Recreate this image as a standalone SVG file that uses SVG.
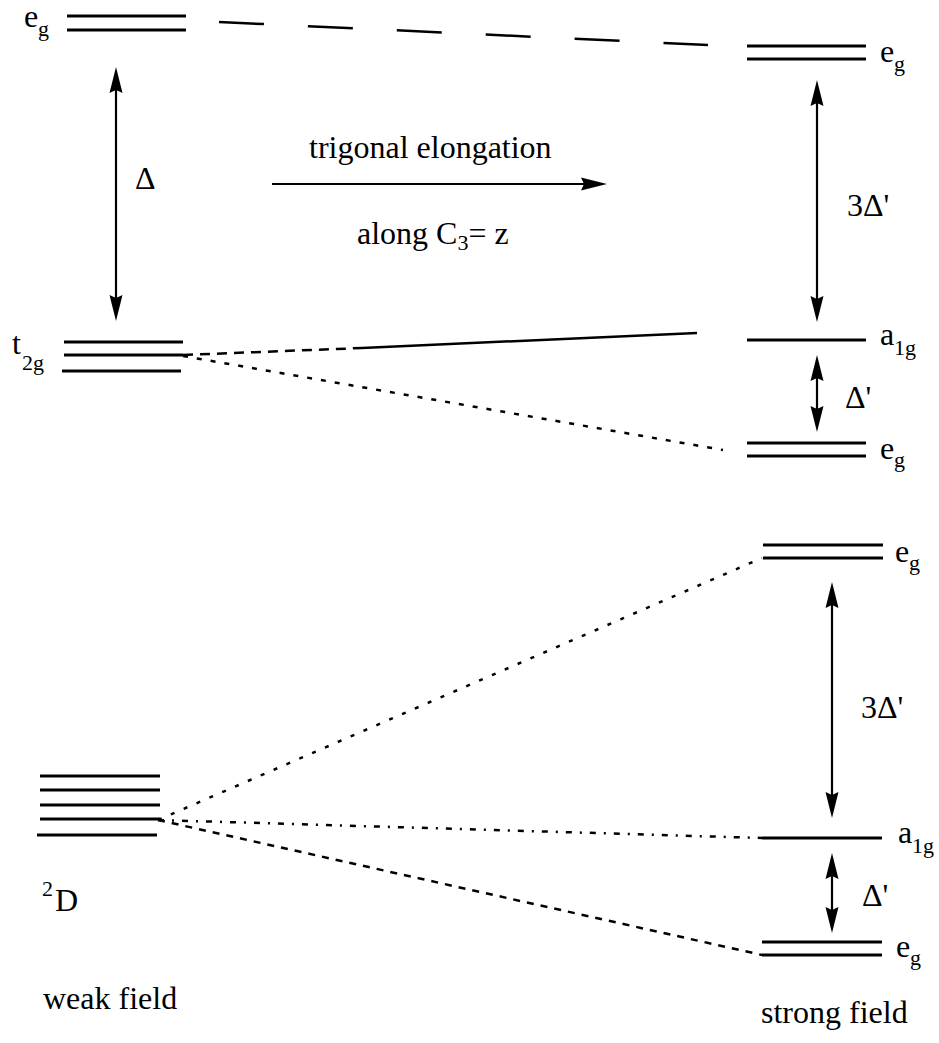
<svg xmlns="http://www.w3.org/2000/svg" width="939" height="1043" viewBox="0 0 939 1043">
<defs>
<style>
.lv{stroke:#000;stroke-width:3;fill:none}
.ar{stroke:#000;stroke-width:2.2;fill:none;marker-start:url(#ah);marker-end:url(#ah)}
.ar1{stroke:#000;stroke-width:2.2;fill:none;marker-end:url(#ah)}
.cn{stroke:#000;fill:none;stroke-width:2.5}
text{font-family:"Liberation Serif","Times New Roman",serif;font-size:32px;fill:#000}
.sub{font-size:22px}
</style>
<marker id="ah" markerUnits="userSpaceOnUse" viewBox="0 0 26 14" markerWidth="26" markerHeight="14" refX="16" refY="7" orient="auto-start-reverse">
<path d="M0,0.5 L26,7 L0,13.5 L3,7 Z" fill="#000"/>
</marker>
</defs>
<rect width="939" height="1043" fill="#fff"/>

<g id="connectors">
<line class="cn" x1="219" y1="22" x2="708" y2="45" stroke-dasharray="45 44"/>
<line class="cn" x1="183" y1="355" x2="362" y2="348" stroke-dasharray="10 7"/>
<line class="cn" x1="362" y1="348" x2="697" y2="333"/>
<line class="cn" x1="183" y1="356" x2="723" y2="450" stroke-dasharray="5 9" stroke-width="3"/>
<line class="cn" x1="158" y1="820" x2="762" y2="558" stroke-dasharray="4 10" stroke-width="3"/>
<line class="cn" x1="158" y1="820" x2="762" y2="838" stroke-dasharray="6 8 2 8"/>
<line class="cn" x1="158" y1="820" x2="762" y2="955" stroke-dasharray="7 7" stroke-width="3"/>
</g>

<g id="arrows">
<line class="ar" x1="116" y1="77" x2="116" y2="311"/>
<line class="ar1" x1="272" y1="184" x2="597" y2="184"/>
<line class="ar" x1="817" y1="90" x2="817" y2="312"/>
<line class="ar" x1="817" y1="365" x2="817" y2="422"/>
<line class="ar" x1="832" y1="592" x2="832" y2="808"/>
<line class="ar" x1="832" y1="863" x2="832" y2="923"/>
</g>

<g id="eg-top-left">
<line class="lv" x1="67" y1="16" x2="186" y2="16"/>
<line class="lv" x1="67" y1="30" x2="186" y2="30"/>
<text x="24" y="27">e</text><text class="sub" x="38" y="36">g</text>
</g>

<g id="eg-top-right">
<line class="lv" x1="747" y1="46" x2="866" y2="46"/>
<line class="lv" x1="747" y1="59" x2="866" y2="59"/>
<text x="880" y="62">e</text><text class="sub" x="894" y="71">g</text>
</g>

<g id="t2g">
<line class="lv" x1="64" y1="342" x2="183" y2="342"/>
<line class="lv" x1="64" y1="355" x2="183" y2="355"/>
<line class="lv" x1="62" y1="371" x2="181" y2="371"/>
<text x="12" y="354">t</text><text class="sub" x="22" y="370">2g</text>
</g>

<g id="a1g-top">
<line class="lv" x1="747" y1="340" x2="866" y2="340"/>
<text x="880" y="345">a</text><text class="sub" x="894" y="355">1g</text>
</g>

<g id="eg-mid">
<line class="lv" x1="747" y1="443" x2="866" y2="443"/>
<line class="lv" x1="747" y1="456" x2="866" y2="456"/>
<text x="880" y="459">e</text><text class="sub" x="894" y="467">g</text>
</g>

<g id="labels-top">
<text x="135" y="189">Δ</text>
<text x="309" y="158">trigonal elongation</text>
<text x="357" y="244">along C<tspan class="sub" dy="6">3</tspan><tspan dy="-6">= z</tspan></text>
<text x="847" y="216">3Δ'</text>
<text x="845" y="408">Δ'</text>
</g>

<g id="d2">
<line class="lv" x1="40" y1="776" x2="160" y2="776"/>
<line class="lv" x1="40" y1="790" x2="160" y2="790"/>
<line class="lv" x1="40" y1="805" x2="160" y2="805"/>
<line class="lv" x1="40" y1="819" x2="160" y2="819"/>
<line class="lv" x1="37" y1="835" x2="157" y2="835"/>
<text class="sub" x="42" y="896">2</text><text x="55" y="911">D</text>
</g>

<g id="eg-bottom-upper">
<line class="lv" x1="763" y1="545" x2="883" y2="545"/>
<line class="lv" x1="763" y1="558" x2="883" y2="558"/>
<text x="895" y="562">e</text><text class="sub" x="909" y="570">g</text>
</g>

<g id="a1g-bottom">
<line class="lv" x1="762" y1="838" x2="882" y2="838"/>
<text x="898" y="843">a</text><text class="sub" x="912" y="853">1g</text>
</g>

<g id="eg-bottom-lower">
<line class="lv" x1="762" y1="942" x2="882" y2="942"/>
<line class="lv" x1="762" y1="955" x2="882" y2="955"/>
<text x="896" y="957">e</text><text class="sub" x="910" y="965">g</text>
</g>

<g id="labels-bottom">
<text x="861" y="718">3Δ'</text>
<text x="862" y="906">Δ'</text>
<text x="43" y="1009">weak field</text>
<text x="761" y="1023">strong field</text>
</g>
</svg>
